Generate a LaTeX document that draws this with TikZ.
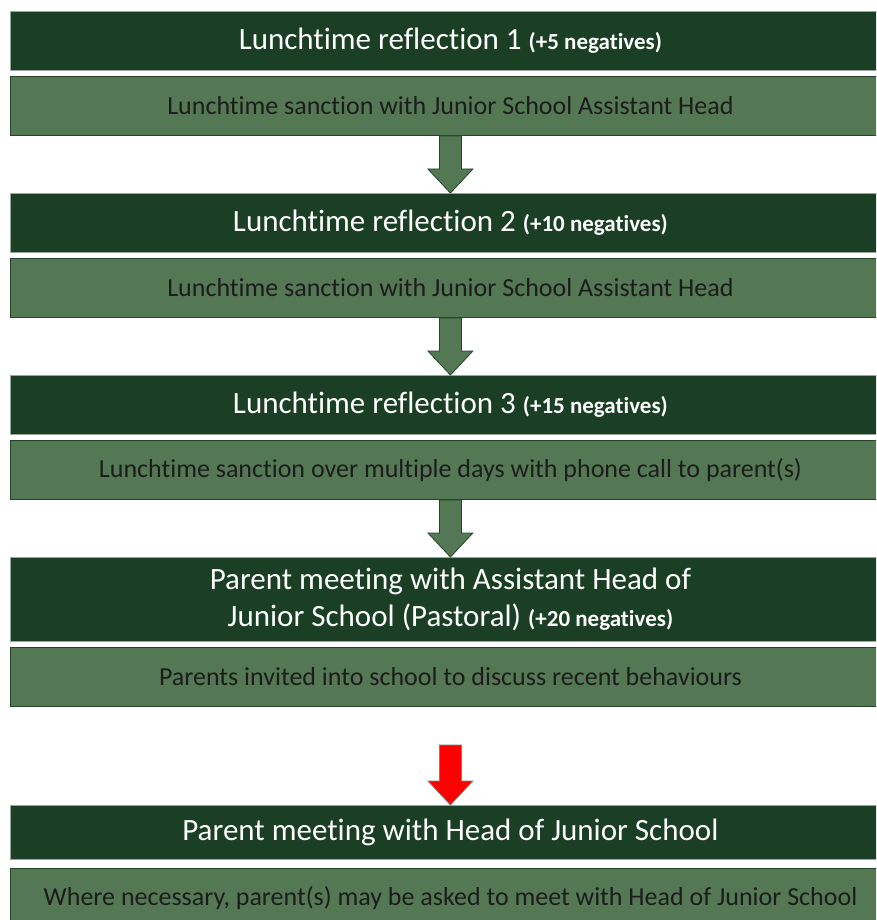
\documentclass[tikz,border=0pt]{standalone}
\usepackage{fontspec}
\setmainfont{Carlito}[Ligatures={NoCommon}]
\usetikzlibrary{calc}
\definecolor{hdrgreen}{HTML}{1A3F24}
\definecolor{subgreen}{HTML}{537853}
\definecolor{edgegreen}{HTML}{24452A}
\definecolor{subtext}{HTML}{1C1C1C}
\definecolor{hdredge}{HTML}{9AA79B}
\begin{document}
\begin{tikzpicture}[x=1pt,y=1pt,
  hdr/.style={rectangle, anchor=north west, fill=hdrgreen, draw=hdredge, line width=0.8pt,
    minimum width=880pt, minimum height=59pt, inner sep=0pt, text=white, align=center,
    font=\fontsize{31}{37}\selectfont},
  subbox/.style={rectangle, anchor=north west, fill=subgreen, draw=edgegreen, line width=1pt,
    minimum width=880pt, minimum height=59pt, inner sep=0pt, text=subtext,
    font=\fontsize{26}{30}\selectfont},
  garrow/.style={fill=subgreen, draw=edgegreen, line width=0.8pt},
  rarrow/.style={fill=red, draw=gray, line width=0.8pt}]
\useasboundingbox (0,0) rectangle (876,-920);
\clip (0,0) rectangle (876,-920);
\newcommand{\negs}[1]{{\fontsize{23}{27}\selectfont\bfseries #1}}
\newcommand{\blockarrow}[3]{%
  \draw[#1] ($(#2)+(-11,0)$) -- ($(#3)+(-11,24)$) -- ($(#3)+(-22.5,24)$) -- (#3)
    -- ($(#3)+(22.5,24)$) -- ($(#3)+(11,24)$) -- ($(#2)+(11,0)$) -- cycle;}

\node[hdr] (h1) at (10,-11) {Lunchtime reflection 1 \negs{(+5 negatives)}};
\node[subbox] (s1) at (10,-76) {Lunchtime sanction with Junior School Assistant Head};

\node[hdr] (h2) at (10,-193) {Lunchtime reflection 2 \negs{(+10 negatives)}};
\node[subbox] (s2) at (10,-258) {Lunchtime sanction with Junior School Assistant Head};

\node[hdr] (h3) at (10,-375) {Lunchtime reflection 3 \negs{(+15 negatives)}};
\node[subbox] (s3) at (10,-440) {Lunchtime sanction over multiple days with phone call to parent(s)};

\node[hdr, minimum height=84pt] (h4) at (10,-557) {Parent meeting with Assistant Head of\\Junior School (Pastoral) \negs{(+20 negatives)}};
\node[subbox] (s4) at (10,-647) {Parents invited into school to discuss recent behaviours};

\node[hdr, minimum height=54pt] (h5) at (10,-805) {Parent meeting with Head of Junior School};
\node[subbox] (s5) at (10,-868) {Where necessary, parent(s) may be asked to meet with Head of Junior School};

\coordinate (r0) at ($(h5.north)+(0,60)$);

\blockarrow{garrow}{s1.south}{h2.north}
\blockarrow{garrow}{s2.south}{h3.north}
\blockarrow{garrow}{s3.south}{h4.north}
\blockarrow{rarrow}{r0}{h5.north}
\end{tikzpicture}
\end{document}
